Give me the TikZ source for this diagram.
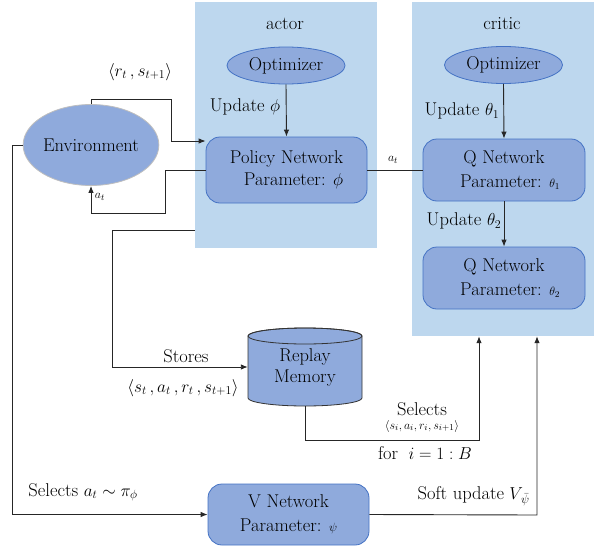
\documentclass[tikz,border=0pt]{standalone}
\usetikzlibrary{arrows.meta,shapes.geometric}
\definecolor{panelblue}{HTML}{BDD7EE}
\definecolor{nodeblue}{HTML}{8FAADC}
\definecolor{borderblue}{HTML}{4472C4}
\begin{document}
\begin{tikzpicture}[x=1pt,y=-1pt,
  font=\fontsize{18.5}{22}\selectfont,
  panel/.style={fill=panelblue,draw=none,inner sep=0pt},
  netbox/.style={rectangle,rounded corners=14pt,fill=nodeblue,draw=borderblue,line width=0.8pt,align=center,inner sep=0pt},
  optell/.style={ellipse,fill=nodeblue,draw=borderblue,line width=0.8pt,inner sep=0pt,minimum width=118pt,minimum height=37pt},
  conn/.style={draw=black!85,line width=0.9pt},
  arr/.style={conn,-{Latex[length=7pt,width=5.5pt]}},
  lbl/.style={inner sep=0pt},
  small/.style={inner sep=0pt,font=\fontsize{13}{15}\selectfont}]
\useasboundingbox (0,0) rectangle (599,546);
% panels
\node[panel,minimum width=182pt,minimum height=246pt] (actorp) at (286,125) {};
\node[panel,minimum width=182pt,minimum height=334pt] (criticp) at (503,169) {};
\node[lbl] (actorlbl) at (285,24) {actor};
\node[lbl] (criticlbl) at (502,24) {critic};
% nodes
\node[optell] (opt1) at (286,65.5) {Optimizer};
\node[optell] (opt2) at (503.5,65) {Optimizer};
\node[netbox,minimum width=161pt,minimum height=66pt] (policy) at (286.5,170) {Policy Network\\[0pt] \hspace*{14pt}Parameter: $\phi$};
\node[netbox,minimum width=162pt,minimum height=62pt] (q1) at (504,170) {Q Network\\[2pt] \hspace*{12pt}Parameter: $\scriptstyle\theta_1$};
\node[netbox,minimum width=162pt,minimum height=62pt] (q2) at (504,278) {Q Network\\[2pt] \hspace*{12pt}Parameter: $\scriptstyle\theta_2$};
\node[netbox,minimum width=161pt,minimum height=61pt] (vnet) at (288.5,514.5) {V Network\\[2pt] Parameter: $\scriptstyle\psi$};
\node[ellipse,fill=nodeblue,draw=black!25,line width=0.8pt,inner sep=0pt,minimum width=132pt,minimum height=81pt] (env) at (91,145) {Environment};
% replay memory cylinder
\draw[fill=nodeblue,draw=black!80,line width=0.8pt] (248,336) -- (248,398)
  arc[start angle=180,end angle=360,x radius=57pt,y radius=8pt] -- (362,336)
  arc[start angle=0,end angle=180,x radius=57pt,y radius=8pt] -- cycle;
\draw[draw=black!80,line width=0.8pt] (305,336) ellipse[x radius=57pt,y radius=8pt];
\node[inner sep=0pt,minimum width=114pt,minimum height=78pt,align=center] (replay) at (305,367) {Replay\\[-1pt]Memory};
% coordinates
\coordinate (c1) at (171,99);
\coordinate (c2) at (171,141);
\coordinate (c3) at (165,170);
\coordinate (c4) at (165,213);
\coordinate (c5) at (12,145);
\coordinate (c6) at (195,230);
\coordinate (c7) at (112,230);
\coordinate (c8) at (479,440);
\coordinate (c9) at (537,515);
% connectors
\draw[arr] (env.north) |- (c1) -- (c2) -- (c2 -| policy.west);
\draw[arr] (policy.west) -- (c3) -- (c4) -| (env.south);
\draw[arr] (env.west) -- (c5) |- (vnet.west);
\draw[arr] (c6) -- (c7) |- (replay.west);
\draw[arr] (replay.south) |- (c8) -- (c8 |- criticp.south);
\draw[arr] (vnet.east) -- (c9) -- (c9 |- criticp.south);
\draw[arr] (opt1.south) -- (policy.north);
\draw[arr] (opt2.south) -- (q1.north);
\draw[arr] (q1.south) -- (q2.north);
\draw[conn] (policy.east) -- (q1.west);
% labels
\node[lbl] (lrs) at (140,72) {$\big\langle r_t\,, s_{t+1}\big\rangle$};
\node[small] (lat1) at (100,197) {$a_t$};
\node[small] (lat2) at (393,160) {$a_t$};
\node[lbl] (lup1) at (245,107) {Update $\phi$};
\node[lbl] (lup2) at (462,111) {Update $\theta_1$};
\node[lbl] (lup3) at (464,221) {Update $\theta_2$};
\node[lbl] (lstores) at (186,356) {Stores};
\node[lbl] (ltuple) at (183,388) {$\big\langle s_t\,, a_t\,, r_t\,, s_{t+1}\big\rangle$};
\node[lbl] (lsel) at (422,409) {Selects};
\node[small] (lseltuple) at (422,426) {$\left\langle s_i, a_i, r_i, s_{i+1}\right\rangle$};
\node[lbl] (lfor) at (425,453) {for $\;i=1:B$};
\node[lbl,anchor=east] (lsoft) at (530,496) {Soft update\;$V_{\,\bar\psi}$};
\node[lbl] (lselects) at (83,492) {Selects $a_t \sim \pi_\phi$};
\end{tikzpicture}
\end{document}
